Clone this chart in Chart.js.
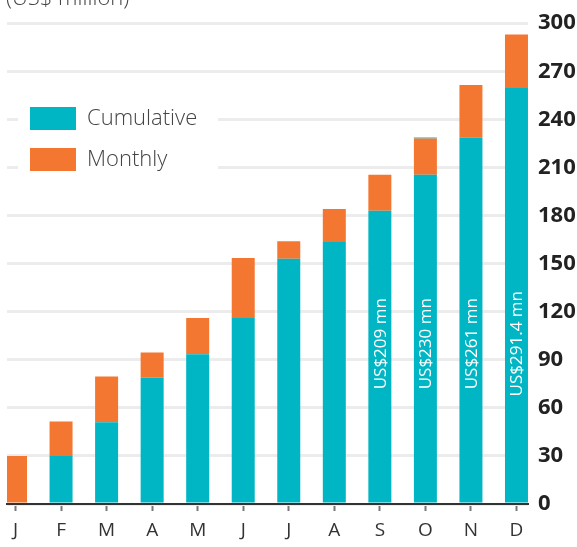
<!DOCTYPE html>
<html>
<head>
<meta charset="utf-8">
<script src="https://cdn.jsdelivr.net/npm/chart.js@4/dist/chart.umd.min.js"></script>
<style>
  html, body { margin: 0; padding: 0; background: #fff; }
  #wrap { position: relative; width: 577px; height: 547px; }
</style>
</head>
<body>
<div id="wrap"><canvas id="fundChart"></canvas></div>
<script>
// --- Data ---
const months = ["J", "F", "M", "A", "M", "J", "J", "A", "S", "O", "N", "D"];
const cumulative = [0, 30, 51, 79, 93.5, 116, 153, 163.5, 183, 205.5, 228.5, 259.5];
const monthly = [30, 21.5, 28.5, 15.5, 22.5, 37.5, 11, 20.5, 22.5, 22.5, 33, 33.5];
const cumulativeTop = [0, 0, 0, 0, 0, 0, 0, 0, 0, 0.7, 0, 0];
const barLabels = ["", "", "", "", "", "", "", "", "US$209 mn", "US$230 mn", "US$261 mn", "US$291.4 mn"];
const yTicks = [0, 30, 60, 90, 120, 150, 180, 210, 240, 270, 300];
const unitLabel = "(US$ million)";

const TEAL = "#00b6c4";
const ORANGE = "#f37731";

Chart.defaults.font.family = "'Open Sans', 'Noto Sans', sans-serif";

const toPoints = arr => arr.map((v, i) => ({ x: i, y: v }));

// unit label, cut off at the top like the original
const unitTitle = {
    id: "unitTitle",
    afterDraw(chart) {
        const ctx = chart.ctx;
        ctx.save();
        ctx.font = "300 22px 'Open Sans', sans-serif";
        ctx.fillStyle = "#444";
        ctx.textBaseline = "alphabetic";
        ctx.fillText(unitLabel, 6, 5);
        ctx.restore();
    }
};

// legend sits inside the plot, on a white patch over the grid
const legendSpot = {
    id: "legendSpot",
    afterLayout(chart) {
        chart.legend.left = 12;
        chart.legend.top = 89;
    },
    beforeDatasetsDraw(chart) {
        const ctx = chart.ctx;
        ctx.save();
        ctx.fillStyle = "#fff";
        ctx.fillRect(18, 98, 200, 84);
        ctx.restore();
        chart.legend.draw();
    }
};

// rotated totals inside the last bars
const barText = {
    id: "barText",
    afterDatasetsDraw(chart) {
        const ctx = chart.ctx;
        const meta = chart.getDatasetMeta(0);
        const yMid = chart.scales.y.getPixelForValue(100);
        ctx.save();
        ctx.font = "17px 'Open Sans', sans-serif";
        ctx.fillStyle = "#fff";
        ctx.textAlign = "center";
        ctx.textBaseline = "middle";
        barLabels.forEach((txt, i) => {
            if (!txt) return;
            const bar = meta.data[i];
            ctx.save();
            ctx.translate(bar.x, yMid);
            ctx.rotate(-Math.PI / 2);
            ctx.fillText(txt, 0, 1);
            ctx.restore();
        });
        ctx.restore();
    }
};

new Chart(document.getElementById("fundChart"), {
    type: "bar",
    data: {
        datasets: [
            { label: "Cumulative", data: toPoints(cumulative), backgroundColor: TEAL, borderColor: TEAL, stack: "a" },
            { label: "Monthly", data: toPoints(monthly), backgroundColor: ORANGE, borderColor: ORANGE, stack: "a" },
            { label: "", data: toPoints(cumulativeTop), backgroundColor: TEAL, borderColor: TEAL, stack: "a" }
        ]
    },
    options: {
        responsive: true,
        maintainAspectRatio: false,
        animation: false,
        categoryPercentage: 1,
        barPercentage: 0.505,
        borderWidth: 0,
        layout: { padding: { left: 7, top: 21, right: 0, bottom: 6 } },
        scales: {
            x: {
                type: "linear",
                offset: false,
                min: -0.187,
                max: 11.253,
                afterBuildTicks: scale => { scale.ticks = months.map((_, i) => ({ value: i })); },
                afterFit: scale => { scale.height = 37; },
                ticks: {
                    autoSkip: false,
                    maxRotation: 0,
                    padding: 8,
                    color: "#333",
                    font: { size: 19 },
                    callback: value => months[value]
                },
                grid: { offset: false, drawOnChartArea: false, tickLength: 7, tickColor: "#777", tickWidth: 2 },
                border: { color: "#333", width: 2 }
            },
            y: {
                position: "right",
                stacked: true,
                min: 0,
                max: 300,
                afterBuildTicks: scale => { scale.ticks = yTicks.map(v => ({ value: v })); },
                afterFit: scale => { scale.width = 49; },
                ticks: {
                    padding: 10,
                    color: "#222",
                    font: { size: 22, weight: "bold" }
                },
                grid: { color: "#ececec", lineWidth: 3, drawTicks: false },
                border: { display: false }
            }
        },
        plugins: {
            legend: {
                position: "chartArea",
                align: "start",
                labels: {
                    boxWidth: 46,
                    boxHeight: 23,
                    padding: 18,
                    color: "#444",
                    font: { size: 22, weight: "300" },
                    filter: item => item.text !== ""
                }
            },
            tooltip: { enabled: false }
        }
    },
    plugins: [unitTitle, legendSpot, barText]
});
</script>
</body>
</html>
